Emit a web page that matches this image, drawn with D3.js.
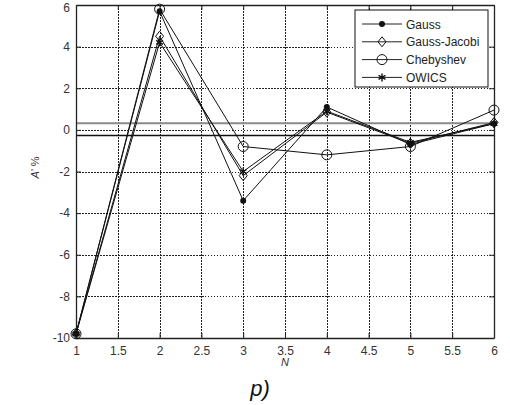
<!DOCTYPE html>
<html>
<head>
<meta charset="utf-8">
<script src="https://cdn.jsdelivr.net/npm/d3@7"></script>
<style>
  body { margin: 0; background: #fff; }
  svg { display: block; }
  text { font-family: "Liberation Sans", Arial, sans-serif; }
</style>
</head>
<body>
<svg id="chart" width="510" height="405"></svg>
<script>
// Relative error A' (%) versus number of nodes N for four quadrature schemes
const nValues = [1, 2, 3, 4, 5, 6];
const gauss = [-9.8, 5.7, -3.4, 1.1, -0.7, 0.3];
const gaussJacobi = [-9.8, 4.5, -2.2, 0.85, -0.65, 0.35];
const chebyshev = [-9.8, 5.8, -0.8, -1.2, -0.8, 0.95];
const owics = [-9.8, 4.2, -2.0, 0.9, -0.6, 0.3];
const seriesNames = ["Gauss", "Gauss-Jacobi", "Chebyshev", "OWICS"];
const xTicks = [1, 1.5, 2, 2.5, 3, 3.5, 4, 4.5, 5, 5.5, 6];
const yTicks = [-10, -8, -6, -4, -2, 0, 2, 4, 6];
// tolerance band limits
const upperLimit = 0.32;
const lowerLimit = -0.27;

const series = [
  { name: seriesNames[0], values: gauss, marker: "dot" },
  { name: seriesNames[1], values: gaussJacobi, marker: "diamond" },
  { name: seriesNames[2], values: chebyshev, marker: "circle" },
  { name: seriesNames[3], values: owics, marker: "star" }
];

const svg = d3.select("#chart");
const plotLeft = 76, plotRight = 494, plotTop = 5, plotBottom = 338;

const x = d3.scaleLinear().domain([1, 6]).range([plotLeft, plotRight]);
const y = d3.scaleLinear().domain([-10, 6]).range([plotBottom, plotTop]);
const plainNumber = d => String(d);

// dotted grid
const grid = svg.append("g").attr("stroke", "#222").attr("stroke-width", 1)
  .attr("stroke-dasharray", "1.5,1.5").attr("shape-rendering", "crispEdges");
grid.selectAll(".gx").data(xTicks.slice(1, -1)).join("line")
  .attr("x1", d => Math.round(x(d)) + 0.5).attr("x2", d => Math.round(x(d)) + 0.5)
  .attr("y1", plotTop).attr("y2", plotBottom);
grid.selectAll(".gy").data(yTicks.slice(1, -1)).join("line")
  .attr("y1", d => Math.round(y(d)) + 0.5).attr("y2", d => Math.round(y(d)) + 0.5)
  .attr("x1", plotLeft).attr("x2", plotRight);

// tolerance lines
svg.append("line").attr("x1", plotLeft).attr("x2", plotRight)
  .attr("y1", y(upperLimit)).attr("y2", y(upperLimit))
  .attr("stroke", "#8a8a8a").attr("stroke-width", 2);
svg.append("line").attr("x1", plotLeft).attr("x2", plotRight)
  .attr("y1", y(lowerLimit)).attr("y2", y(lowerLimit))
  .attr("stroke", "#111").attr("stroke-width", 1.4);

// axes with inward ticks
const axisColor = "#222";
const bottomAxis = svg.append("g").attr("transform", `translate(0,${plotBottom})`)
  .call(d3.axisBottom(x).tickValues(xTicks).tickFormat(plainNumber).tickSizeInner(-5).tickSizeOuter(0).tickPadding(8));
const topAxis = svg.append("g").attr("transform", `translate(0,${plotTop})`)
  .call(d3.axisTop(x).tickValues(xTicks).tickFormat("").tickSizeInner(-5).tickSizeOuter(0));
const leftAxis = svg.append("g").attr("transform", `translate(${plotLeft},0)`)
  .call(d3.axisLeft(y).tickValues(yTicks).tickFormat(plainNumber).tickSizeInner(-5).tickSizeOuter(0).tickPadding(6));
const rightAxis = svg.append("g").attr("transform", `translate(${plotRight},0)`)
  .call(d3.axisRight(y).tickValues(yTicks).tickFormat("").tickSizeInner(-5).tickSizeOuter(0));
[bottomAxis, topAxis, leftAxis, rightAxis].forEach(g => {
  g.select(".domain").attr("stroke", axisColor).attr("stroke-width", 1.3);
  g.selectAll(".tick line").attr("stroke", axisColor);
  g.selectAll("text").attr("font-size", 12).attr("fill", "#333")
    .attr("font-family", "Liberation Sans, Arial, sans-serif");
});
// keep the topmost label inside the page
leftAxis.selectAll(".tick").filter(d => d === 6).select("text").attr("dy", "0.55em");

// series lines
const line = d3.line().x((d, i) => x(nValues[i])).y(d => y(d));
svg.append("g").selectAll("path").data(series).join("path")
  .attr("d", s => line(s.values)).attr("fill", "none")
  .attr("stroke", "#111").attr("stroke-width", 1);

function drawMarker(g, type, cx, cy) {
  if (type === "dot") {
    g.append("circle").attr("cx", cx).attr("cy", cy).attr("r", 3).attr("fill", "#111");
  } else if (type === "diamond") {
    const s = 5;
    g.append("path").attr("d", `M${cx},${cy - s}L${cx + s * 0.8},${cy}L${cx},${cy + s}L${cx - s * 0.8},${cy}Z`)
      .attr("fill", "none").attr("stroke", "#111").attr("stroke-width", 1);
  } else if (type === "circle") {
    g.append("circle").attr("cx", cx).attr("cy", cy).attr("r", 5)
      .attr("fill", "none").attr("stroke", "#111").attr("stroke-width", 1);
  } else if (type === "star") {
    const r = 4;
    const p = [];
    for (let k = 0; k < 3; k++) {
      const a = Math.PI / 2 + k * Math.PI / 3;
      p.push(`M${cx + r * Math.cos(a)},${cy - r * Math.sin(a)}L${cx - r * Math.cos(a)},${cy + r * Math.sin(a)}`);
    }
    g.append("path").attr("d", p.join("")).attr("stroke", "#111").attr("stroke-width", 1.4);
  }
}

const markers = svg.append("g");
series.forEach(s => {
  s.values.forEach((v, i) => drawMarker(markers, s.marker, x(nValues[i]), y(v)));
});

// axis titles
svg.append("text").attr("x", (plotLeft + plotRight) / 2).attr("y", 366)
  .attr("text-anchor", "middle").attr("font-size", 11).attr("font-style", "italic")
  .attr("fill", "#333").text("N");
svg.append("text").attr("transform", `translate(39,${(plotTop + plotBottom) / 2 - 4}) rotate(-90)`)
  .attr("text-anchor", "middle").attr("font-size", 11).attr("fill", "#333")
  .html('<tspan font-style="italic">A</tspan>\u2019 %');

// caption
svg.append("text").attr("x", 260).attr("y", 396).attr("text-anchor", "middle")
  .attr("font-family", "DejaVu Serif, serif").attr("font-style", "italic")
  .attr("font-size", 22).attr("fill", "#111").text("p)");

// legend
const lg = svg.append("g");
const lx = 355, ly = 10, lw = 133, lh = 77;
lg.append("rect").attr("x", lx).attr("y", ly).attr("width", lw).attr("height", lh)
  .attr("fill", "#fff").attr("stroke", "#111").attr("stroke-width", 1);
series.forEach((s, i) => {
  const yy = ly + 14 + i * 17.8;
  lg.append("line").attr("x1", lx + 7).attr("x2", lx + 47).attr("y1", yy).attr("y2", yy)
    .attr("stroke", "#222").attr("stroke-width", 1);
  drawMarker(lg, s.marker, lx + 27, yy);
  lg.append("text").attr("x", lx + 51).attr("y", yy + 4.5).attr("font-size", 12)
    .attr("fill", "#222").text(s.name);
});
</script>
</body>
</html>
